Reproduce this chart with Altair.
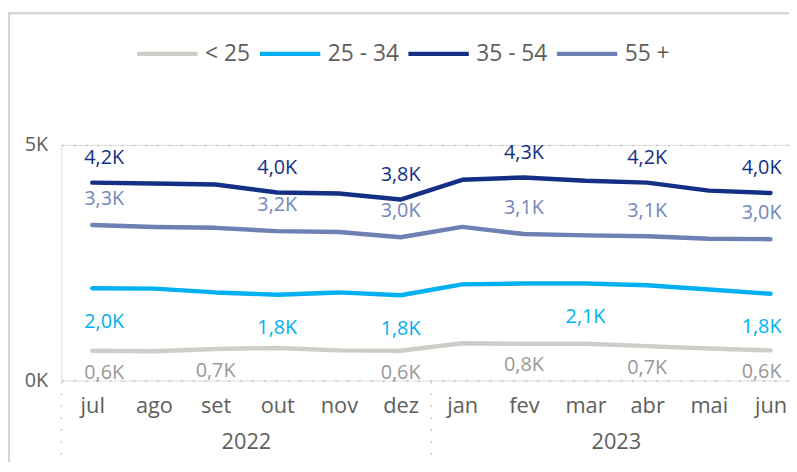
import altair as alt
import pandas as pd

months = ["jul", "ago", "set", "out", "nov", "dez", "jan", "fev", "mar", "abr", "mai", "jun"]
years = ["2022", "2023"]
series = ["< 25", "25 - 34", "35 - 54", "55 +"]

v_lt25 = [630, 620, 670, 690, 640, 630, 790, 780, 780, 730, 680, 640]
v_25_34 = [1960, 1950, 1870, 1820, 1870, 1810, 2040, 2060, 2060, 2020, 1930, 1840]
v_35_54 = [4200, 4180, 4160, 3990, 3970, 3840, 4260, 4310, 4240, 4200, 4030, 3980]
v_55 = [3300, 3260, 3240, 3170, 3150, 3040, 3260, 3110, 3080, 3060, 3010, 3000]

label_idx = {
    "< 25": [0, 2, 5, 7, 9, 11],
    "25 - 34": [0, 3, 5, 8, 11],
    "35 - 54": [0, 3, 5, 7, 9, 11],
    "55 +": [0, 3, 5, 7, 9, 11],
}

line_colors = ["#D0CDC8", "#00B0F0", "#143085", "#6E80B4"]
label_colors = ["#9A9896", "#00B0F0", "#143085", "#7486BA"]
label_dy = [22, 34, -25, -26]

FONT = "Open Sans"
AX = "#605E5C"

rows = []
for s, vals in zip(series, [v_lt25, v_25_34, v_35_54, v_55]):
    for i, v in enumerate(vals):
        rows.append({"idx": i, "month": months[i], "series": s, "value": v,
                     "show": i in label_idx[s]})
df = pd.DataFrame(rows)

W, H = 735, 238
xscale = alt.Scale(domain=[-0.5, 11.3], nice=False, zero=False)
yscale = alt.Scale(domain=[0, 5000], nice=False)

month_expr = "[" + ",".join("'%s'" % m for m in months) + "][datum.value]"

base = alt.Chart(df)

lines = base.mark_line(strokeWidth=4.5, strokeCap="round", strokeJoin="round").encode(
    x=alt.X("idx:Q", scale=xscale,
            axis=alt.Axis(values=list(range(12)), labelExpr=month_expr, title=None,
                          ticks=False, domain=False, grid=False, labelFontSize=22,
                          labelColor=AX, labelFont=FONT, labelPadding=15,
                          labelFlush=False)),
    y=alt.Y("value:Q", scale=yscale,
            axis=alt.Axis(values=[0, 5000], labelExpr="datum.value/1000 + 'K'", title=None,
                          ticks=False, domain=False, grid=True, gridDash=[2, 10],
                          gridColor="#C8C6C4", gridWidth=1.5, labelFontSize=20,
                          labelColor=AX, labelFont=FONT, labelPadding=14)),
    color=alt.Color("series:N", scale=alt.Scale(domain=series, range=line_colors),
                    sort=series,
                    legend=alt.Legend(title=None, orient="none", direction="horizontal",
                                      legendX=74, legendY=-125, symbolType="stroke",
                                      symbolSize=3721, symbolStrokeWidth=4.5,
                                      labelFontSize=23, labelColor=AX, labelFont=FONT,
                                      labelOffset=5, columnPadding=0)),
    detail="series:N",
)

layers = [lines]
for s, c, dy in zip(series, label_colors, label_dy):
    for sel, dx in [((alt.datum.idx > 0) & (alt.datum.idx < 11), 0),
                    (alt.datum.idx == 0, 12), (alt.datum.idx == 11, -9)]:
        t = base.transform_filter(
            (alt.datum.series == s) & (alt.datum.show == True)
        ).transform_filter(sel).transform_calculate(
            txt="replace(format(datum.value/1000, '.1f'), '.', ',') + 'K'"
        ).mark_text(dy=dy, dx=dx, fontSize=20, font=FONT, color=c).encode(
            x=alt.X("idx:Q", scale=xscale),
            y=alt.Y("value:Q", scale=yscale),
            text="txt:N",
        )
        layers.append(t)

# year labels
ydf = pd.DataFrame({"year": years, "pos": [2.5, 8.5]})
year_text = alt.Chart(ydf).mark_text(fontSize=22, font=FONT, color=AX).encode(
    x=alt.X("pos:Q", scale=xscale), y=alt.value(H + 62), text="year:N")
layers.append(year_text)

# dotted separators
sdf = pd.DataFrame({"pos": [-0.5, 5.5]})
seps = alt.Chart(sdf).mark_rule(strokeDash=[2, 10], color="#C8C6C4", strokeWidth=1.5).encode(
    x=alt.X("pos:Q", scale=xscale), y=alt.value(H + 1), y2=alt.value(H + 78))
layers.append(seps)

# visual frame
frame_top = alt.Chart(ydf).mark_rule(color="#D6D4D2", strokeWidth=2).encode(
    x=alt.value(-54), x2=alt.value(W + 10), y=alt.value(-133))
frame_left = alt.Chart(ydf).mark_rule(color="#D6D4D2", strokeWidth=2).encode(
    x=alt.value(-53), y=alt.value(-133), y2=alt.value(330))
layers += [frame_top, frame_left]

chart = alt.layer(*layers).properties(
    width=W, height=H, autosize="none",
    padding={"left": 54, "top": 136, "right": 0, "bottom": 80},
).configure_view(stroke=None).configure(background="white")

chart.save("out.html", embed_options={"renderer": "svg", "actions": False})
